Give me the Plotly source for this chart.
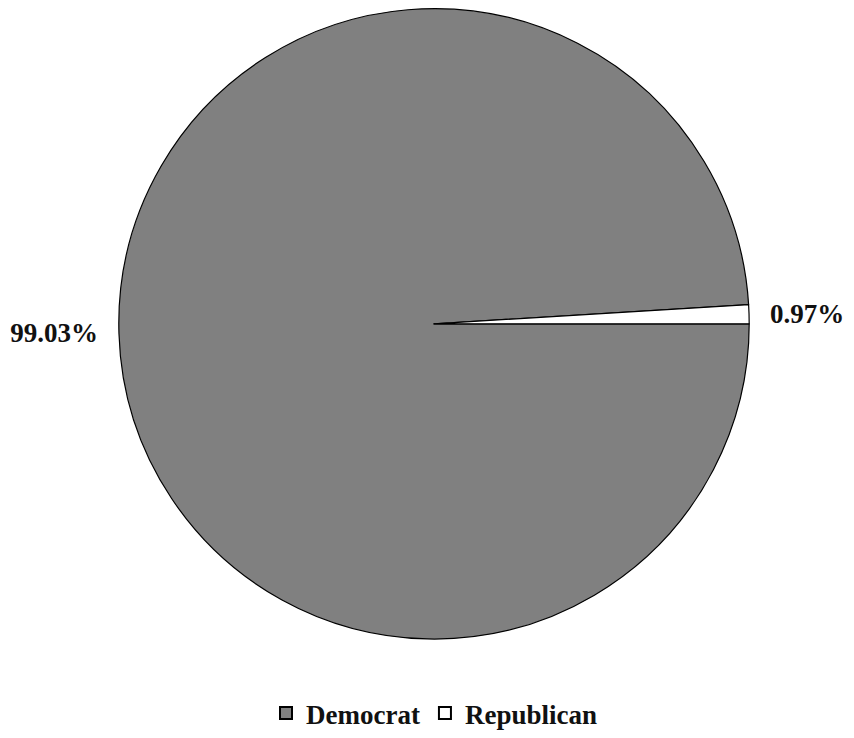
import plotly.graph_objects as go

parties = ["Democrat", "Republican"]
shares = [99.03, 0.97]
colors = ["#808080", "#ffffff"]
NB = "\u00a0"

fig = go.Figure(go.Pie(
    labels=parties,
    values=shares,
    sort=False,
    direction="clockwise",
    rotation=90,
    marker=dict(colors=colors, line=dict(color="#000000", width=1.2)),
    texttemplate=["%{value:.2f}%" + NB * 2, NB * 2 + "%{value:.2f}%"],
    textposition="outside",
    textfont=dict(family="Liberation Serif", size=27, color="#111111", weight="bold"),
    hoverinfo="label+percent",
    domain=dict(x=[0.0, 1.0], y=[0.135, 0.995]),
))

fig.update_layout(
    width=854, height=738,
    margin=dict(l=0, r=0, t=0, b=0),
    paper_bgcolor="white",
    showlegend=True,
    legend=dict(
        orientation="h", x=0.5, xanchor="center", y=0.0, yanchor="bottom",
        font=dict(family="Liberation Serif", size=27, color="#111111", weight="bold"),
        itemsizing="constant",
    ),
)

fig.write_html("out.html")
